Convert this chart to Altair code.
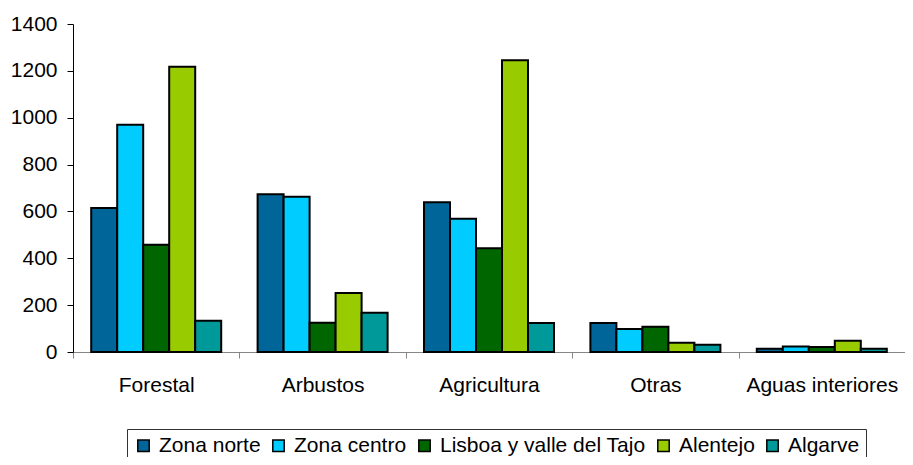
import altair as alt
import pandas as pd

categories = ["Forestal", "Arbustos", "Agricultura", "Otras", "Aguas interiores"]
series = ["Zona norte", "Zona centro", "Lisboa y valle del Tajo", "Alentejo", "Algarve"]
colors = ["#006699", "#00CCFF", "#006600", "#99CC00", "#009999"]

zona_norte = [615, 673, 639, 124, 14]
zona_centro = [970, 663, 569, 98, 23]
lisboa_tajo = [458, 125, 443, 108, 21]
alentejo = [1218, 252, 1245, 40, 48]
algarve = [133, 167, 124, 31, 14]

y_ticks = [0, 200, 400, 600, 800, 1000, 1200, 1400]

rows = []
for s, vals in zip(series, [zona_norte, zona_centro, lisboa_tajo, alentejo, algarve]):
    for c, v in zip(categories, vals):
        rows.append({"categoria": c, "zona": s, "valor": v})
df = pd.DataFrame(rows)

chart = (
    alt.Chart(df)
    .mark_bar(stroke="black", strokeWidth=2)
    .encode(
        x=alt.X(
            "categoria:N",
            sort=categories,
            scale=alt.Scale(paddingInner=0, paddingOuter=0),
            axis=alt.Axis(
                title=None,
                labelAngle=0,
                tickBand="extent",
                domainColor="#868686",
                tickColor="#868686",
                tickSize=6,
                labelFontSize=21,
                labelPadding=16,
                labelColor="black",
            ),
        ),
        xOffset=alt.XOffset(
            "zona:N",
            sort=series,
            scale=alt.Scale(paddingInner=0, paddingOuter=0.7),
        ),
        y=alt.Y(
            "valor:Q",
            scale=alt.Scale(domain=[0, 1400], nice=False),
            axis=alt.Axis(
                title=None,
                values=y_ticks,
                format="d",
                grid=False,
                domainColor="black",
                tickColor="black",
                tickSize=6,
                labelPadding=10,
                labelFontSize=21,
                labelColor="black",
            ),
        ),
        color=alt.Color(
            "zona:N",
            sort=series,
            scale=alt.Scale(domain=series, range=colors),
            legend=alt.Legend(
                title=None,
                orient="none",
                legendX=54,
                legendY=405,
                direction="horizontal",
                symbolType="square",
                symbolSize=130,
                symbolStrokeColor="black",
                symbolStrokeWidth=1.5,
                labelFontSize=21,
                labelColor="black",
                columnPadding=7,
                labelOffset=5,
                padding=6,
                strokeColor="#333333",
                fillColor="white",
                labelLimit=0,
            ),
        ),
    )
    .properties(
        width=832,
        height=328,
        padding={"left": 65, "top": 16, "right": 0, "bottom": 105},
        autosize=alt.AutoSizeParams(type="none"),
    )
    .configure(font="Liberation Sans")
    .configure_view(stroke=None)
)

chart.save("out.html", embed_options={"renderer": "svg", "actions": False})
